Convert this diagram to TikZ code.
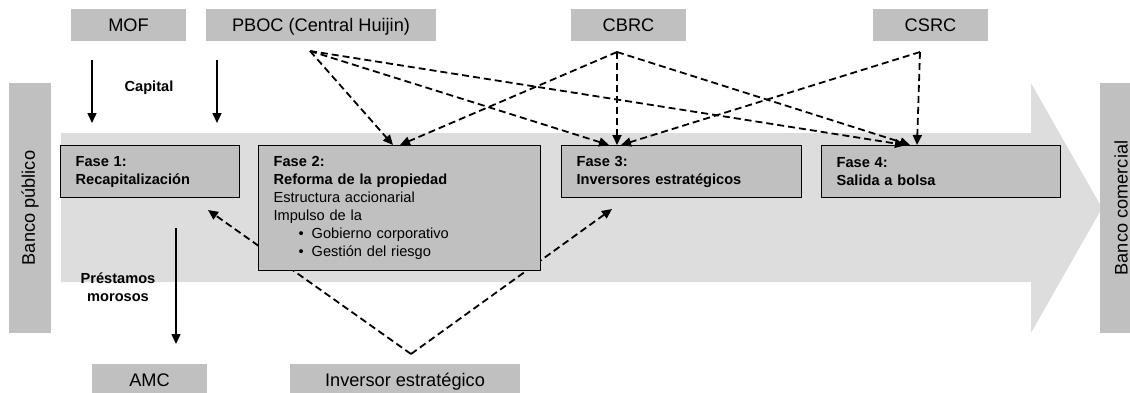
\documentclass[tikz,border=0pt]{standalone}
\usepackage{fontspec}
\setmainfont{Liberation Sans}
\usetikzlibrary{arrows.meta}
\definecolor{boxgray}{HTML}{C0C0C0}
\definecolor{pathgray}{HTML}{DDDDDD}
\newcommand\bigfont{\fontsize{9.1}{11}\selectfont}
\newcommand\smallfont{\fontsize{7.3}{9}\selectfont}
\begin{document}
\begin{tikzpicture}[x=0.5pt,y=-0.5pt,line join=round,
    org/.style={fill=boxgray,inner sep=0pt,minimum height=16pt,text height=6.5pt,text depth=0pt,font=\bigfont},
    bank/.style={fill=boxgray,inner sep=0pt,rotate=90,minimum width=125pt,minimum height=21pt,font=\bigfont},
    fase/.style={draw,line width=0.6pt,fill=boxgray,anchor=north west,align=left,inner xsep=7.5pt,inner ysep=0pt,minimum height=26pt,text width=#1,font=\smallfont},
    flow/.style={-{Triangle[length=5pt,width=4.5pt]},line width=0.75pt},
    reg/.style={-{Triangle[length=5pt,width=4.5pt]},line width=0.9pt,dash pattern=on 3.5pt off 2pt},
    lbl/.style={font=\smallfont\bfseries,align=center,inner sep=0pt}]
    \useasboundingbox (0,0) rectangle (1130,392);
    \fill[pathgray] (61,133) -- (1031,133) -- (1031,83) -- (1102,208) -- (1031,333) -- (1031,282) -- (61,282) -- cycle;
    \node[bank] (publico) at (30,208) {Banco público};
    \node[bank] (comercial) at (1121,208) {Banco comercial};
    \node[org,minimum width=57.5pt] (mof) at (128.5,25) {MOF};
    \node[org,minimum width=115pt] (pboc) at (321,25) {PBOC (Central Huijin)};
    \node[org,minimum width=57.5pt] (cbrc) at (628.5,25) {CBRC};
    \node[org,minimum width=57.5pt] (csrc) at (930.5,25) {CSRC};
    \node[org,minimum width=57.5pt] (amc) at (149.5,380) {AMC};
    \node[org,minimum width=115pt] (inversor) at (405,380) {Inversor estratégico};
    \coordinate (pbocS) at (310,51);
    \coordinate (cbrcS) at (617,52);
    \coordinate (csrcS) at (920,52);
    \coordinate (invS) at (411,354);
    \coordinate (f1in) at (208,210);
    \coordinate (f3in) at (612,209);
    \coordinate (f2a) at (393,145);
    \coordinate (f2b) at (400,145);
    \coordinate (f3a) at (609,145);
    \coordinate (f3b) at (617,145);
    \coordinate (f3c) at (621,145);
    \coordinate (f4a) at (905,145);
    \coordinate (f4b) at (910,145);
    \coordinate (f4c) at (917,145);
    \draw[reg] (invS) -- (f1in);
    \draw[reg] (invS) -- (f3in);
    \node[fase=74.5pt] (f1) at (60,145) {\textbf{Fase 1:}\\\textbf{Recapitalización}};
    \node[fase=126pt,minimum height=62.5pt] (f2) at (258,145) {\textbf{Fase 2:}\\\textbf{Reforma de la propiedad}\\Estructura accionarial\\Impulso de la\\\hspace*{12.5pt}•\hspace{4pt}Gobierno corporativo\\\hspace*{12.5pt}•\hspace{4pt}Gestión del riesgo};
    \node[fase=105pt] (f3) at (561,145) {\textbf{Fase 3:}\\\textbf{Inversores estratégicos}};
    \node[fase=104.5pt] (f4) at (821,145) {\textbf{Fase 4:}\\\textbf{Salida a bolsa}};
    \foreach \s/\t in {pbocS/f2a,pbocS/f3a,pbocS/f4a,cbrcS/f2b,cbrcS/f3b,cbrcS/f4b,csrcS/f3c,csrcS/f4c}
        \draw[reg] (\s) -- (\t);
    \coordinate (capA) at (92,60);
    \coordinate (capAe) at (92,123);
    \coordinate (capB) at (217,60);
    \coordinate (capBe) at (217,123);
    \coordinate (npl) at (176,228);
    \coordinate (nple) at (176,344);
    \draw[flow] (capA) -- (capAe);
    \draw[flow] (capB) -- (capBe);
    \draw[flow] (npl) -- (nple);
    \node[lbl] (capital) at (149,88) {Capital};
    \node[lbl] (morosos) at (118,287.5) {Préstamos\\morosos};
\end{tikzpicture}
\end{document}
